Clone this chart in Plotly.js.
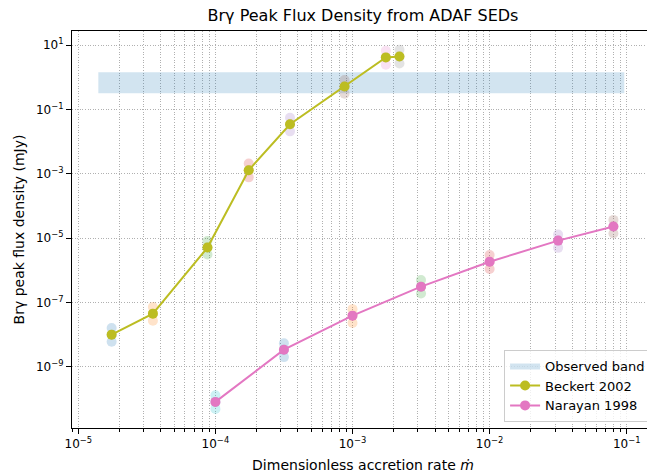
<!DOCTYPE html>
<html>
<head>
<meta charset="utf-8">
<script src="https://cdn.plot.ly/plotly-3.0.1.min.js"></script>
<style>html,body{margin:0;padding:0;background:#fff;overflow:hidden}#chart{width:662px;height:475px}</style>
</head>
<body>
<div id="chart"></div>
<script>
// ---- data ----
const beckX = [1.75e-5, 3.5e-5, 8.75e-5, 1.75e-4, 3.5e-4, 8.75e-4, 1.75e-3, 2.2e-3];
const beckY = [1.0e-8, 4.5e-8, 5.1e-6, 1.3e-3, 3.5e-2, 0.52, 4.2, 4.5];
const beckLo = [6e-9, 2.7e-8, 3.1e-6, 7.8e-4, 2.1e-2, 0.31, 2.5, 2.7];
const beckHi = [1.6e-8, 7.2e-8, 8.2e-6, 2.1e-3, 5.6e-2, 0.83, 6.7, 7.2];

const narX = [1e-4, 3.16e-4, 1e-3, 3.16e-3, 1e-2, 3.16e-2, 8e-2];
const narY = [8.1e-11, 3.4e-9, 3.9e-8, 3.1e-7, 1.85e-6, 8.4e-6, 2.3e-5];
const narLo = [4.9e-11, 2.0e-9, 2.3e-8, 1.9e-7, 1.1e-6, 5.0e-6, 1.4e-5];
const narHi = [1.3e-10, 5.4e-9, 6.2e-8, 5.0e-7, 3.0e-6, 1.3e-5, 3.7e-5];

const bandX = [1.4e-5, 9.6e-2];
const bandY = [0.32, 1.44];

const xTickVals = [1e-5, 1e-4, 1e-3, 1e-2, 1e-1];
const xTickText = ['10<sup>−5</sup>', '10<sup>−4</sup>', '10<sup>−3</sup>', '10<sup>−2</sup>', '10<sup>−1</sup>'];
const yTickVals = [1e-9, 1e-7, 1e-5, 1e-3, 1e-1, 1e1];
const yTickText = ['10<sup>−9</sup>', '10<sup>−7</sup>', '10<sup>−5</sup>', '10<sup>−3</sup>', '10<sup>−1</sup>', '10<sup>1</sup>'];

const tab10 = ['31,119,180', '255,127,14', '44,160,44', '214,39,40', '148,103,189',
               '140,86,75', '227,119,194', '127,127,127', '188,189,34', '23,190,207'];

// ---- traces ----
const traces = [];
traces.push({
  x: [bandX[0], bandX[1], bandX[1], bandX[0], bandX[0]],
  y: [bandY[0], bandY[0], bandY[1], bandY[1], bandY[0]],
  mode: 'lines', fill: 'toself', fillcolor: 'rgba(31,119,180,0.2)',
  line: {width: 0, color: 'rgba(31,119,180,0.2)'},
  name: 'Observed band', hoverinfo: 'skip'
});
function addFaint(xs, lo, mid, hi, start) {
  for (let i = 0; i < xs.length; i++) {
    const c = tab10[(start + i) % 10];
    traces.push({
      x: [xs[i], xs[i], xs[i]], y: [lo[i], mid[i], hi[i]],
      mode: 'markers', showlegend: false,
      marker: {size: 10, color: 'rgba(' + c + ',0.22)'}
    });
  }
}
addFaint(beckX, beckLo, beckY, beckHi, 0);
addFaint(narX, narLo, narY, narHi, 9);

traces.push({
  x: beckX, y: beckY, mode: 'lines+markers', name: 'Beckert 2002',
  line: {color: '#bcbd22', width: 2}, marker: {color: '#bcbd22', size: 10}
});
traces.push({
  x: narX, y: narY, mode: 'lines+markers', name: 'Narayan 1998',
  line: {color: '#e377c2', width: 2}, marker: {color: '#e377c2', size: 10}
});

const gridc = '#b0b0b0';
const gdash = '1px,1.6px';
const layout = {
  width: 662, height: 475,
  margin: {l: 72, r: 8, t: 31, b: 47},
  paper_bgcolor: '#fff', plot_bgcolor: '#fff',
  font: {family: 'DejaVu Sans', size: 12, color: '#000'},
  title: {text: 'Brγ Peak Flux Density from ADAF SEDs', font: {size: 16, color: '#000'},
          x: 0.5, xref: 'paper', y: 1 - 15 / 475, yref: 'container', yanchor: 'middle'},
  xaxis: {
    type: 'log', range: [-5.046, -0.801],
    tickvals: xTickVals, ticktext: xTickText,
    ticks: 'outside', ticklen: 5, tickcolor: '#000', tickwidth: 1,
    showline: true, linecolor: '#000', linewidth: 1, mirror: true,
    showgrid: true, gridcolor: gridc, griddash: gdash, gridwidth: 1,
    minor: {dtick: 'D1', ticks: 'outside', ticklen: 3, tickcolor: '#000',
            showgrid: true, gridcolor: gridc, griddash: gdash, gridwidth: 1},
    zeroline: false, tickfont: {size: 12},
    title: {text: 'Dimensionless accretion rate <i>m\u0307</i>', font: {size: 14}, standoff: 9}
  },
  yaxis: {
    type: 'log', range: [-10.904, 1.444],
    tickvals: yTickVals, ticktext: yTickText,
    ticks: 'outside', ticklen: 5, tickcolor: '#000', tickwidth: 1,
    showline: true, linecolor: '#000', linewidth: 1, mirror: true,
    showgrid: true, gridcolor: gridc, griddash: gdash, gridwidth: 1,
    zeroline: false, tickfont: {size: 12},
    title: {text: 'Brγ peak flux density (mJy)', font: {size: 14}, standoff: 8}
  },
  legend: {
    x: 0.995, y: 0.016, xanchor: 'right', yanchor: 'bottom',
    bgcolor: 'rgba(255,255,255,0.8)', bordercolor: '#cccccc', borderwidth: 1,
    font: {size: 13}, tracegroupgap: 0
  },
  showlegend: true
};

Plotly.newPlot('chart', traces, layout, {displayModeBar: false, staticPlot: true});
</script>
</body>
</html>
